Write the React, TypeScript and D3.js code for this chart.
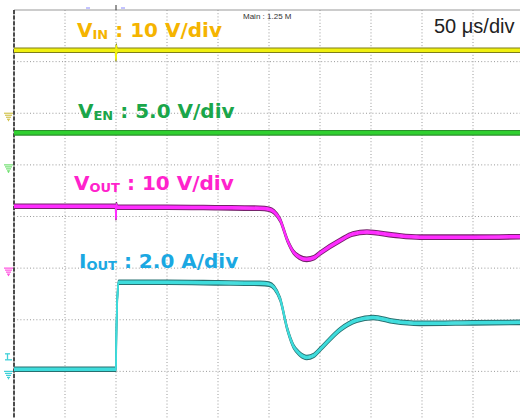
import React from "react";
import * as d3 from "d3";

// time base: 50 µs/div, 10 divisions; 8 vertical divisions
const timeTicks = d3.range(0, 501, 50);
const divTicks = d3.range(0, 9);

// VIN (10 V/div, ground at div 6)
const vinT = [0, 99.6, 100, 100.3, 100.7, 101.4, 250, 500];
const vinV = [12.2, 12.2, 10.5, 13.0, 12.0, 12.2, 12.2, 12.2];

// VEN (5 V/div, ground at div 5)
const venT = [0, 250, 500];
const venV = [3.1, 3.1, 3.1];

// VOUT (10 V/div, ground at div 3)
const voutT = [0, 99.6, 100, 100.4, 101, 150, 200, 241, 250, 255, 261, 268, 274, 280, 287, 294, 300, 320, 332, 346, 372, 398, 450, 500];
const voutV = [12.0, 12.0, 9.7, 12.3, 11.8, 11.8, 11.7, 11.6, 11.4, 10.9, 9.3, 5.4, 3.1, 2.1, 1.7, 2.0, 2.9, 5.4, 6.6, 7.0, 6.4, 6.0, 6.0, 6.1];

// IOUT (2 A/div, ground at div 1)
const ioutT = [0, 100, 100.4, 101.5, 102.5, 150, 200, 241, 250, 255, 261, 268, 274, 280, 287, 294, 300, 320, 336, 352, 372, 398, 450, 500];
const ioutA = [0.08, 0.08, 1.5, 3.0, 3.45, 3.45, 3.43, 3.41, 3.38, 3.25, 2.79, 1.63, 0.97, 0.68, 0.54, 0.62, 0.85, 1.63, 1.98, 2.09, 1.94, 1.86, 1.88, 1.9];

const channels = [
  { t: vinT, v: vinV, ground: 6, perDiv: 10, edge: "#7e7e18", core: "#f0f010" },
  { t: venT, v: venV, ground: 5, perDiv: 5, edge: "#2c8f2c", core: "#30d030" },
  { t: voutT, v: voutV, ground: 3, perDiv: 10, edge: "#74226a", core: "#ff2cff" },
  { t: ioutT, v: ioutA, ground: 1, perDiv: 2, edge: "#287070", core: "#3edcdc" },
];

const x = d3.scaleLinear().domain([0, 500]).range([14, 524]);
const y = d3.scaleLinear().domain([0, 8]).range([423, 10]);

const Ground = ({ div, color }: { div: number; color: string }) => {
  const y0 = y(div);
  return (
    <g stroke={color} strokeWidth={1.2}>
      {[9, 7, 5, 3].map((w, i) => (
        <line key={i} x1={8.5 - w / 2} x2={8.5 + w / 2} y1={y0 + i * 2} y2={y0 + i * 2} />
      ))}
      <line x1={8.5} x2={8.5} y1={y0 + 6} y2={y0 + 8} />
    </g>
  );
};

const Label = ({ x0, y0, main, sub, rest, color }: any) => (
  <text x={x0} y={y0} fill={color} fontFamily="DejaVu Sans" fontWeight="bold" fontSize={20}>
    {main}
    <tspan fontSize={13} dy={2}>{sub}</tspan>
    <tspan dy={-2}>{" : " + rest}</tspan>
  </text>
);

export default function App() {
  const lines = channels.map((c) => {
    const gen = d3
      .line<number>()
      .x((_, i) => x(c.t[i]))
      .y((d) => y(c.ground + d / c.perDiv))
      .curve(d3.curveMonotoneX);
    return { ...c, d: gen(c.v) || "" };
  });

  return (
    <svg width={520} height={418} style={{ position: "absolute", left: 0, top: 0, background: "#fff" }}>
      {/* grid */}
      <g stroke="#999" strokeWidth={1} strokeDasharray="1,2.2">
        {timeTicks.slice(1).map((t) => (
          <line key={"v" + t} x1={x(t)} x2={x(t)} y1={y(8)} y2={y(0)} />
        ))}
        {divTicks.slice(0, 8).map((d) => (
          <line key={"h" + d} x1={x(0)} x2={x(500)} y1={y(d)} y2={y(d)} />
        ))}
      </g>
      <line x1={x(0)} x2={520} y1={y(8)} y2={y(8)} stroke="#999" strokeWidth={1.2} />
      <line x1={x(0)} x2={x(0)} y1={y(8)} y2={418} stroke="#bbb" strokeWidth={1.5} />
      <line x1={x(0)} x2={x(0)} y1={y(8)} y2={418} stroke="#222" strokeWidth={1.5} strokeDasharray="4,1.6" />

      {/* top markers */}
      <line x1={x(100)} x2={x(100)} y1={5} y2={10} stroke="#333" strokeWidth={1} />
      <line x1={86} x2={90} y1={8} y2={8} stroke="#88f" strokeWidth={1} />
      <line x1={121} x2={125} y1={8} y2={8} stroke="#88f" strokeWidth={1} />

      {/* traces: stacked thin strokes so horizontal parts look thick, vertical ones thin */}
      {lines.map((l, i) => (
        <g key={i} fill="none" strokeLinejoin="round">
          {[-2, 2].map((dy) => (
            <path key={"e" + dy} d={l.d} transform={`translate(0,${dy})`} stroke={l.edge} strokeWidth={1.6} />
          ))}
          {[-1, 0, 1].map((dy) => (
            <path key={"c" + dy} d={l.d} transform={`translate(0,${dy})`} stroke={l.core} strokeWidth={1.5} />
          ))}
        </g>
      ))}

      {/* ground markers */}
      <Ground div={6} color="#d2c450" />
      <Ground div={5} color="#70e070" />
      <Ground div={3} color="#ff50e0" />
      <Ground div={1} color="#40d0d8" />
      <g stroke="#40d0d8" strokeWidth={1.3}>
        <line x1={5} x2={10} y1={y(1.34)} y2={y(1.34)} />
        <line x1={7.5} x2={7.5} y1={y(1.34)} y2={y(1.34) + 6} />
        <line x1={5} x2={12} y1={y(1.34) + 6} y2={y(1.34) + 6} />
      </g>

      {/* labels */}
      <Label x0={77} y0={37} main="V" sub="IN" rest="10 V/div" color="#f5b400" />
      <Label x0={78} y0={118} main="V" sub="EN" rest="5.0 V/div" color="#1aa64a" />
      <Label x0={74} y0={190} main="V" sub="OUT" rest="10 V/div" color="#ff22cc" />
      <Label x0={79} y0={268} main="I" sub="OUT" rest="2.0 A/div" color="#1ba8e2" />

      <text x={434} y={33} fontFamily="Liberation Sans" fontSize={20} fill="#222">
        50 μs/div
      </text>
      <text x={243} y={19} fontFamily="Liberation Sans" fontSize={8} fill="#333">
        Main : 1.25 M
      </text>
    </svg>
  );
}
